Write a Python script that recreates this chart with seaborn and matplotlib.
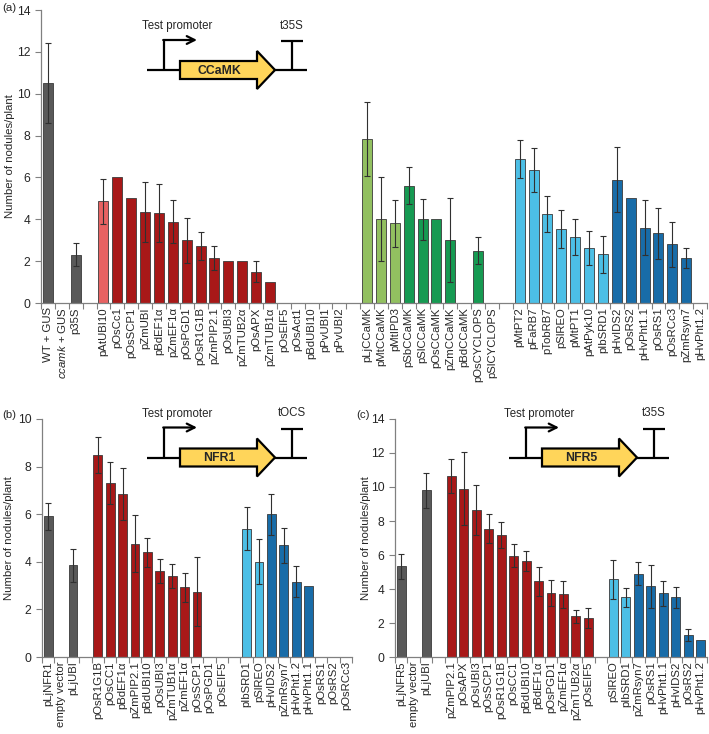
import numpy as np
import pandas as pd
import matplotlib
matplotlib.use('Agg')
import matplotlib.pyplot as plt
import seaborn as sns

# ==============================
# DATA
# ==============================
# panel (a) - CCaMK constructs (blank labels are empty slots)
a_labels = ['WT + GUS', '$\\mathit{ccamk}$ + GUS', 'p35S', ' ',
            'pAtUBI10', 'pOsCc1', 'pOsSCP1', 'pZmUBI', 'pBdEF1α', 'pZmEF1α',
            'pOsPGD1', 'pOsR1G1B', 'pZmPIP2.1', 'pOsUBI3', 'pZmTUB2α', 'pOsAPX',
            'pZmTUB1α', 'pOsEIF5', 'pOsAct1', 'pBdUBI10', 'pPvUBI1', 'pPvUBI2', '  ',
            'pLjCCaMK', 'pMtCCaMK', 'pMtIPD3', 'pSbCCaMK', 'pSlCCaMK', 'pOsCCaMK',
            'pZmCCaMK', 'pBdCCaMK', 'pOsCYCLOPS', 'pSlCYCLOPS', '   ',
            'pMtPT2', 'pFaRB7', 'pTobRB7', 'pSlREO', 'pMtPT1', 'pAtPyk10', 'pIbSRD1',
            'pHvIDS2', 'pOsRS2', 'pHvPht1.1', 'pOsRS1', 'pOsRCc3', 'pZmRsyn7', 'pHvPht1.2']
a_values = [10.5, 0, 2.3, np.nan,
            4.85, 6.0, 5.0, 4.35, 4.3, 3.88, 3.0, 2.72, 2.15, 2.0, 2.0, 1.5,
            1.0, 0, 0, 0, 0, 0, np.nan,
            7.85, 4.0, 3.8, 5.6, 4.0, 4.0, 3.0, 0, 2.5, 0, np.nan,
            6.88, 6.35, 4.25, 3.55, 3.15, 2.63, 2.33,
            5.9, 5.0, 3.6, 3.33, 2.8, 2.15, 0]
a_errors = [1.9, np.nan, 0.55, np.nan,
            1.08, np.nan, np.nan, 1.45, 1.4, 1.03, 1.07, 0.67, 0.55, np.nan, np.nan, 0.5,
            np.nan, np.nan, np.nan, np.nan, np.nan, np.nan, np.nan,
            1.77, 2.0, 1.13, 0.88, 0.97, np.nan, 2.02, np.nan, 0.65, np.nan, np.nan,
            0.9, 1.07, 0.85, 0.9, 0.85, 0.82, 0.88,
            1.57, np.nan, 1.3, 1.22, 1.07, 0.5, np.nan]
a_groups = ['ctrl'] * 4 + ['red_light'] + ['red'] * 17 + ['gap'] + \
           ['green_light'] * 3 + ['green'] * 7 + ['gap'] + \
           ['cyan'] * 7 + ['blue'] * 7

# panel (b) - NFR1 constructs
b_labels = ['pLjNFR1', 'empty vector', 'pLjUBI', ' ',
            'pOsR1G1B', 'pOsCC1', 'pBdEF1α', 'pZmPIP2.1', 'pBdUBI10', 'pOsUBI3',
            'pZmTUB1α', 'pZmEF1α', 'pOsSCP1', 'pOsPGD1', 'pOsEIF5', '  ',
            'pIbSRD1', 'pSlREO', 'pHvIDS2', 'pZmRsyn7', 'pHvPht1.2', 'pHvPht1.1',
            'pOsRS1', 'pOsRS2', 'pOsRCc3']
b_values = [5.92, 0, 3.86, np.nan,
            8.5, 7.3, 6.86, 4.76, 4.41, 3.63, 3.42, 2.93, 2.75, 0, 0, np.nan,
            5.39, 4.0, 6.0, 4.69, 3.17, 3.0, 0, 0, 0]
b_errors = [0.57, np.nan, 0.69, np.nan,
            0.75, 0.88, 1.1, 1.2, 0.61, 0.5, 0.5, 0.6, 1.45, np.nan, np.nan, np.nan,
            0.9, 0.95, 0.86, 0.75, 0.66, np.nan, np.nan, np.nan, np.nan]
b_groups = ['ctrl'] * 4 + ['red'] * 11 + ['gap'] + ['cyan'] * 2 + ['blue'] * 7

# panel (c) - NFR5 constructs
c_labels = ['pLjNFR5', 'empty vector', 'pLjUBI', ' ',
            'pZmPIP2.1', 'pOsAPX', 'pOsUBI3', 'pOsSCP1', 'pOsR1G1B', 'pOsCC1',
            'pBdUBI10', 'pBdEF1α', 'pOsPGD1', 'pZmEF1α', 'pZmTUB2α', 'pOsEIF5', '  ',
            'pSlREO', 'pIbSRD1', 'pZmRsyn7', 'pOsRS1', 'pHvPht1.1', 'pHvIDS2',
            'pOsRS2', 'pHvPht1.2']
c_values = [5.33, 0, 9.8, np.nan,
            10.65, 9.9, 8.65, 7.55, 7.18, 5.96, 5.65, 4.45, 3.76, 3.7, 2.39, 2.29, np.nan,
            4.57, 3.51, 4.9, 4.16, 3.76, 3.51, 1.29, 1.0]
c_errors = [0.75, np.nan, 1.05, np.nan,
            0.98, 2.15, 1.45, 0.85, 0.75, 0.68, 0.57, 0.85, 0.76, 0.8, 0.4, 0.58, np.nan,
            1.14, 0.55, 0.68, 1.25, 0.74, 0.62, 0.37, np.nan]
c_groups = ['ctrl'] * 4 + ['red'] * 12 + ['gap'] + ['cyan'] * 2 + ['blue'] * 6

PALETTE = {'ctrl': '#595959', 'red': '#C00000', 'red_light': '#FF4B4B',
           'green_light': '#92D050', 'green': '#00B050',
           'cyan': '#33CCFF', 'blue': '#0070C0', 'gap': '#FFFFFF'}

# ==============================
# STYLE
# ==============================
sns.set_style('ticks')
plt.rcParams['font.family'] = ['Liberation Sans', 'DejaVu Sans']
plt.rcParams['mathtext.fontset'] = 'custom'
plt.rcParams['mathtext.rm'] = 'Liberation Sans'
plt.rcParams['mathtext.it'] = 'Liberation Sans:italic'
AXCOL = '#808080'
FS = 8.2

W, H = 709, 734
fig = plt.figure(figsize=(W / 100, H / 100), dpi=100)


def px_axes(x0, x1, ytop, ybot):
    return fig.add_axes([x0 / W, 1 - ybot / H, (x1 - x0) / W, (ybot - ytop) / H])


def draw_panel(ax, labels, values, errors, groups, ymax, ylab_x):
    df = pd.DataFrame({'label': labels, 'value': values, 'err': errors, 'group': groups})
    df_bars = df[df['group'] != 'gap']
    sns.barplot(data=df_bars, x='label', y='value', hue='group', palette=PALETTE,
                order=labels, dodge=False, width=0.72, edgecolor='#3a3a3a',
                linewidth=0.6, errorbar=None, legend=False, ax=ax)
    xpos = np.arange(len(labels))
    ax.errorbar(xpos, df['value'], yerr=df['err'], fmt='none', ecolor='#303030',
                elinewidth=0.8, capsize=2, capthick=0.8, zorder=5)
    ax.set_xlim(-0.5, len(labels) - 0.5)
    ax.set_ylim(0, ymax)
    ax.set_yticks(np.arange(0, ymax + 1, 2))
    ax.set_xticks(xpos)
    ax.set_xticklabels(labels, rotation=90, fontsize=FS)
    ax.set_xticks(np.arange(-0.5, len(labels), 1), minor=True)
    ax.tick_params(axis='x', which='major', length=0, pad=3)
    ax.tick_params(axis='x', which='minor', length=4, width=0.8, color=AXCOL)
    ax.tick_params(axis='y', length=4, width=0.8, color=AXCOL, labelsize=FS + 0.5)
    ax.set_xlabel('')
    ax.set_ylabel('Number of nodules/plant', fontsize=FS)
    ax.yaxis.set_label_coords(ylab_x, 0.5)
    for s in ['top', 'right']:
        ax.spines[s].set_visible(False)
    for s in ['left', 'bottom']:
        ax.spines[s].set_color(AXCOL)
        ax.spines[s].set_linewidth(0.9)


ax_a = px_axes(41, 707, 10, 303)
draw_panel(ax_a, a_labels, a_values, a_errors, a_groups, 14, (15 - 41) / 666)

ax_b = px_axes(42, 352, 419, 657)
draw_panel(ax_b, b_labels, b_values, b_errors, b_groups, 10, (14 - 42) / 310)

ax_c = px_axes(395, 707, 419, 657)
draw_panel(ax_c, c_labels, c_values, c_errors, c_groups, 14, (371 - 395) / 312)

# ==============================
# CONSTRUCT DIAGRAMS (overlay)
# ==============================
ov = fig.add_axes([0, 0, 1, 1], zorder=10)
ov.set_xlim(0, W)
ov.set_ylim(H, 0)
ov.axis('off')


def construct(x0, y0, gene, term):
    lw = 1.6
    ov.plot([x0, x0 + 160], [y0, y0], color='black', lw=lw, solid_capstyle='butt', zorder=2)
    # promoter
    ov.plot([x0 + 17, x0 + 17], [y0, y0 - 30], color='black', lw=lw, solid_capstyle='butt')
    ov.annotate('', xy=(x0 + 50, y0 - 30), xytext=(x0 + 16.2, y0 - 30),
                arrowprops=dict(arrowstyle='->', lw=lw, color='black',
                                mutation_scale=14, shrinkA=0, shrinkB=0))
    # gene arrow
    pts = [(x0 + 33, y0 - 9), (x0 + 110, y0 - 9), (x0 + 110, y0 - 19), (x0 + 128, y0),
           (x0 + 110, y0 + 19), (x0 + 110, y0 + 9), (x0 + 33, y0 + 9)]
    ov.add_patch(plt.Polygon(pts, closed=True, facecolor='#FFD55A', edgecolor='black',
                             lw=lw, joinstyle='miter', zorder=3))
    ov.text(x0 + 72, y0 + 0.5, gene, ha='center', va='center', fontsize=8.8,
            fontweight='bold', zorder=4)
    # terminator
    ov.plot([x0 + 145, x0 + 145], [y0, y0 - 29], color='black', lw=lw, solid_capstyle='butt')
    ov.plot([x0 + 134, x0 + 156], [y0 - 29, y0 - 29], color='black', lw=lw,
            solid_capstyle='butt')
    ov.text(x0 + 30, y0 - 44, 'Test promoter', ha='center', va='center', fontsize=8.3)
    ov.text(x0 + 145, y0 - 44, term, ha='center', va='center', fontsize=8.3)


construct(147, 70, 'CCaMK', 't35S')
construct(147, 457.5, 'NFR1', 'tOCS')
construct(509, 457.5, 'NFR5', 't35S')

ov.text(2, 3, '(a)', ha='left', va='top', fontsize=FS)
ov.text(2, 410, '(b)', ha='left', va='top', fontsize=FS)
ov.text(356, 410, '(c)', ha='left', va='top', fontsize=FS)

plt.savefig('out.png', dpi=100, facecolor='white')
plt.close()
